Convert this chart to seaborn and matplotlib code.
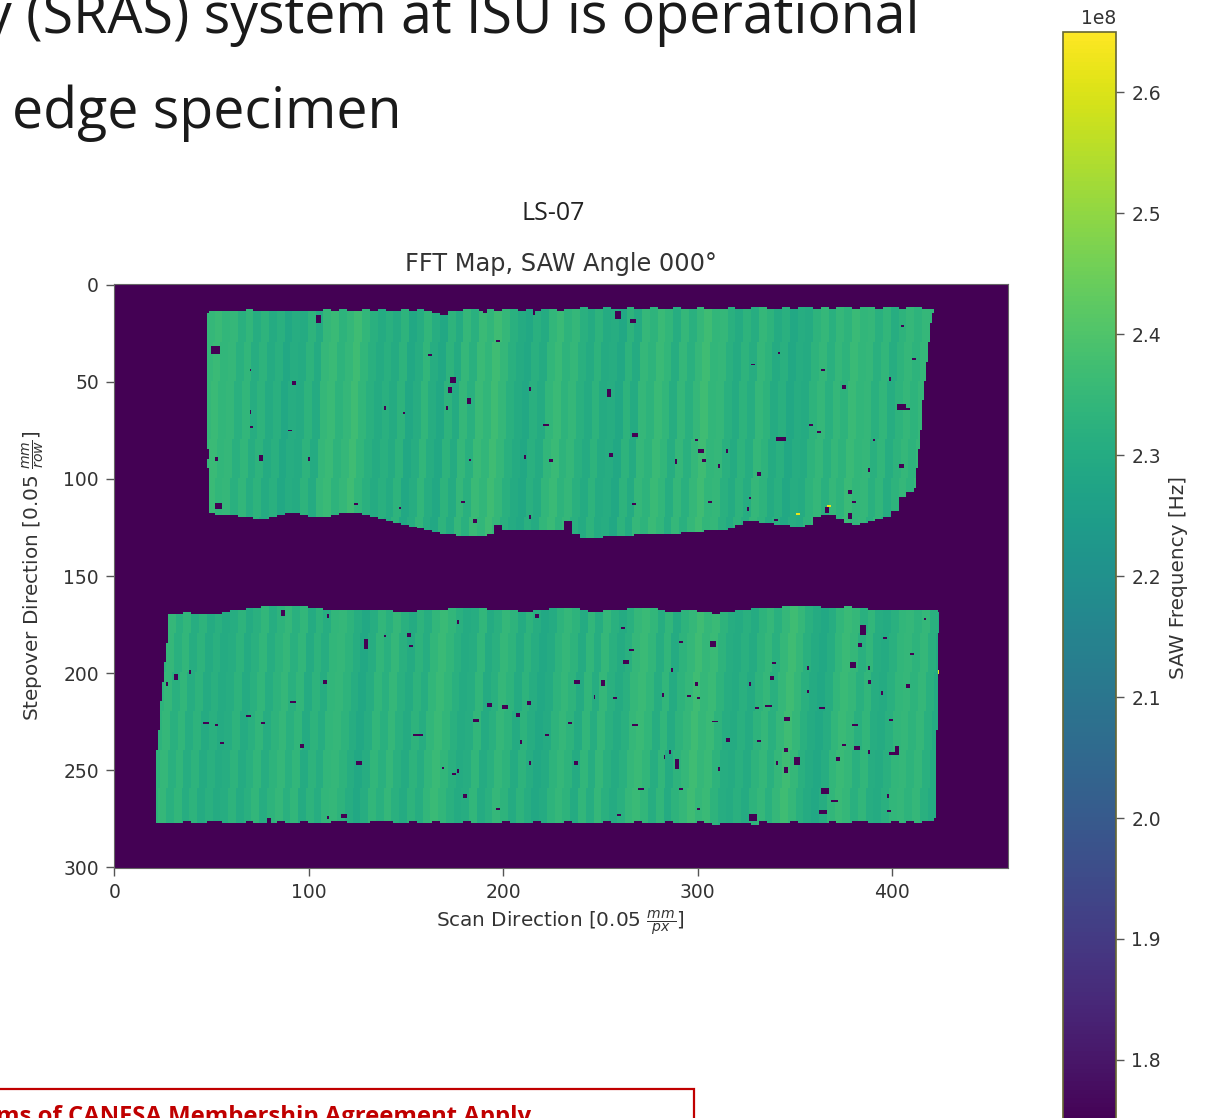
import numpy as np
import pandas as pd
import matplotlib
matplotlib.use('Agg')
import matplotlib.pyplot as plt
import seaborn as sns
from matplotlib.patches import Rectangle

W, H = 1205, 1118

# tick labels
x_ticks = [0, 100, 200, 300, 400]
y_ticks = [0, 50, 100, 150, 200, 250, 300]
cbar_ticks = [1.8e8, 1.9e8, 2.0e8, 2.1e8, 2.2e8, 2.3e8, 2.4e8, 2.5e8, 2.6e8]

# map size and colour range [Hz]
n_rows, n_cols = 301, 460
f_min, f_max = 1.747e8, 2.65e8
bin_w, band_h = 4, 5

# upper specimen, one entry per 4 column bin, starting at column 48
top_start = 48
top_upper = [14, 14, 14, 14, 14, 13, 14, 14, 14, 14,
             14, 14, 14, 14, 14, 13, 14, 13, 14, 14,
             13, 14, 13, 14, 14, 13, 14, 13, 14, 15,
             16, 14, 14, 13, 13, 14, 13, 14, 13, 13,
             14, 13, 14, 13, 13, 14, 13, 13, 12, 13,
             13, 12, 13, 13, 12, 13, 13, 12, 13, 13,
             12, 13, 13, 12, 13, 13, 13, 12, 13, 13,
             12, 12, 13, 13, 12, 13, 12, 12, 13, 12,
             13, 12, 12, 13, 12, 12, 13, 12, 12, 13,
             12, 12, 13, 13]
top_lower = [118, 119, 119, 119, 120, 120, 121, 121, 120, 119,
             118, 118, 119, 120, 120, 120, 119, 118, 118, 118,
             119, 120, 121, 122, 123, 124, 125, 126, 127, 128,
             129, 129, 130, 130, 130, 130, 129, 124, 127, 127,
             127, 127, 127, 127, 127, 127, 122, 129, 131, 131,
             131, 130, 130, 130, 130, 129, 129, 129, 129, 129,
             129, 128, 128, 128, 127, 127, 127, 126, 124, 122,
             122, 123, 123, 124, 124, 125, 125, 124, 120, 119,
             119, 121, 123, 124, 123, 122, 121, 120, 117, 110,
             107, 105, 104, 104]
top_freq = [2.35, 2.36, 2.34, 2.35, 2.32, 2.34, 2.31, 2.33, 2.30, 2.32,
            2.29, 2.31, 2.30, 2.33, 2.30, 2.35, 2.36, 2.33, 2.35, 2.37,
            2.34, 2.32, 2.30, 2.32, 2.30, 2.33, 2.29, 2.31, 2.34, 2.31,
            2.29, 2.33, 2.30, 2.35, 2.32, 2.36, 2.34, 2.37, 2.35, 2.32,
            2.30, 2.29, 2.32, 2.30, 2.34, 2.36, 2.33, 2.35, 2.32, 2.30,
            2.33, 2.30, 2.31, 2.29, 2.33, 2.30, 2.35, 2.33, 2.36, 2.34,
            2.31, 2.35, 2.32, 2.35, 2.37, 2.34, 2.35, 2.32, 2.30, 2.33,
            2.31, 2.35, 2.33, 2.30, 2.32, 2.29, 2.31, 2.30, 2.33, 2.35,
            2.32, 2.35, 2.33, 2.36, 2.34, 2.35, 2.32, 2.34, 2.31, 2.33,
            2.35, 2.33, 2.35, 2.34]
# side edges of the upper specimen, one entry per 5 row band from row 10
top_band_start = 10
top_left = [49, 48, 48, 47, 48, 47, 48, 48, 48, 47,
            48, 48, 48, 48, 48, 49, 48, 49, 49, 49,
            49, 49, 49, 49, 49]
top_right = [422, 421, 420, 420, 419, 419, 418, 418, 417, 417,
             416, 416, 416, 415, 415, 414, 414, 413, 413, 412,
             412, 412, 412, 412, 412]

# lower specimen, one entry per 4 column bin, starting at column 20
low_start = 20
low_upper = [170, 170, 170, 170, 169, 170, 170, 170, 170, 169,
             168, 168, 167, 167, 166, 166, 166, 166, 166, 166,
             167, 167, 168, 168, 168, 168, 168, 168, 168, 168,
             168, 169, 169, 169, 168, 168, 168, 168, 167, 167,
             167, 167, 167, 168, 168, 168, 168, 169, 169, 168,
             168, 167, 167, 167, 167, 168, 169, 169, 168, 168,
             168, 167, 167, 167, 167, 168, 169, 169, 168, 168,
             169, 169, 170, 169, 169, 168, 168, 167, 167, 167,
             167, 166, 166, 166, 166, 166, 167, 167, 167, 166,
             167, 167, 168, 168, 168, 168, 168, 168, 168, 168,
             168, 169]
low_lower = [278, 278, 278, 278, 277, 278, 278, 277, 277, 278,
             278, 278, 277, 278, 278, 278, 277, 278, 278, 277,
             278, 278, 278, 277, 277, 278, 278, 278, 277, 277,
             277, 278, 278, 277, 278, 278, 277, 278, 278, 278,
             277, 278, 278, 278, 278, 277, 278, 278, 278, 277,
             278, 278, 278, 277, 278, 278, 278, 278, 277, 278,
             278, 278, 277, 278, 278, 278, 277, 278, 278, 278,
             277, 278, 279, 278, 278, 278, 278, 279, 277, 278,
             278, 278, 277, 278, 278, 278, 278, 277, 278, 278,
             277, 277, 278, 278, 278, 277, 278, 277, 278, 277,
             277, 277]
low_freq = [2.33, 2.33, 2.35, 2.32, 2.34, 2.31, 2.33, 2.30, 2.32, 2.30,
            2.31, 2.33, 2.30, 2.32, 2.34, 2.31, 2.33, 2.35, 2.32, 2.34,
            2.30, 2.33, 2.31, 2.34, 2.35, 2.33, 2.31, 2.29, 2.31, 2.34,
            2.32, 2.35, 2.32, 2.30, 2.33, 2.31, 2.34, 2.36, 2.34, 2.32,
            2.30, 2.31, 2.34, 2.30, 2.32, 2.35, 2.33, 2.30, 2.33, 2.31,
            2.29, 2.30, 2.33, 2.35, 2.33, 2.30, 2.34, 2.31, 2.35, 2.32,
            2.30, 2.32, 2.35, 2.36, 2.34, 2.31, 2.34, 2.30, 2.33, 2.35,
            2.37, 2.35, 2.36, 2.33, 2.31, 2.30, 2.32, 2.30, 2.33, 2.35,
            2.32, 2.35, 2.37, 2.35, 2.32, 2.30, 2.29, 2.31, 2.34, 2.36,
            2.35, 2.32, 2.34, 2.31, 2.30, 2.32, 2.34, 2.35, 2.33, 2.35,
            2.32, 2.30]
low_band_start = 165
low_left = [28, 28, 28, 28, 27, 27, 26, 26, 25, 25,
            24, 24, 24, 23, 23, 22, 22, 22, 22, 22,
            22, 22, 22, 22]
low_right = [425, 425, 425, 424, 424, 424, 424, 424, 424, 424,
             424, 424, 424, 423, 423, 423, 423, 423, 423, 423,
             423, 423, 422, 422]

# the streaks lean a little, columns of lean per 10 rows
row_lean = [0, 0, 0, 1, 1, 2, 2, 2, 3, 3, 4, 4, 5, 5, 5, 5,
            0, 0, 1, 1, 2, 2, 3, 3, 4, 4, 5, 5, 5, 5, 5]

# dropouts in the scan: column, row, width, height
top_spots = [(104, 16, 3, 4), (50, 32, 5, 4), (52, 113, 4, 3), (173, 48, 3, 3), (172, 53, 2, 3),
             (182, 59, 2, 3), (92, 50, 2, 2), (70, 44, 1, 1), (70, 65, 1, 2), (70, 73, 2, 1),
             (90, 75, 2, 1), (75, 88, 2, 3), (100, 89, 1, 2), (52, 89, 2, 2), (139, 63, 1, 2),
             (149, 66, 1, 1), (162, 36, 2, 1), (197, 29, 2, 1), (190, 13, 2, 2), (216, 14, 1, 2),
             (214, 53, 1, 2), (171, 63, 1, 2), (221, 72, 3, 1), (211, 88, 1, 2), (224, 90, 2, 2),
             (183, 90, 1, 1), (124, 113, 2, 1), (147, 115, 1, 1), (179, 112, 2, 1), (185, 121, 2, 2),
             (214, 119, 1, 2), (258, 14, 3, 4), (266, 18, 3, 2), (254, 54, 2, 4), (267, 77, 3, 2),
             (255, 87, 2, 2), (289, 90, 1, 3), (299, 80, 2, 1), (301, 85, 3, 2), (303, 90, 2, 2),
             (315, 85, 1, 2), (311, 93, 1, 2), (331, 97, 2, 2), (341, 79, 5, 2), (358, 72, 2, 1),
             (362, 76, 2, 1), (328, 41, 2, 1), (342, 35, 1, 1), (364, 44, 2, 1), (375, 52, 2, 2),
             (399, 48, 1, 2), (405, 21, 2, 1), (411, 38, 2, 1), (403, 62, 5, 3), (408, 64, 2, 1),
             (391, 80, 1, 1), (388, 95, 1, 2), (404, 93, 3, 2), (378, 106, 2, 2), (380, 112, 2, 1),
             (267, 113, 2, 1), (306, 112, 2, 1), (327, 110, 1, 1), (326, 115, 1, 2), (366, 115, 2, 3),
             (378, 118, 2, 3), (340, 121, 2, 1)]
low_spots = [(86, 168, 2, 3), (110, 170, 1, 2), (129, 183, 2, 5), (151, 180, 2, 2), (152, 186, 2, 1),
             (139, 181, 1, 1), (177, 173, 1, 2), (217, 170, 2, 2), (31, 201, 2, 3), (39, 199, 1, 2),
             (27, 205, 1, 2), (108, 204, 2, 2), (91, 215, 3, 1), (68, 222, 3, 1), (46, 226, 3, 1),
             (52, 227, 2, 1), (76, 226, 2, 1), (55, 236, 2, 1), (96, 237, 2, 2), (125, 246, 3, 2),
             (154, 232, 5, 1), (185, 224, 3, 2), (192, 216, 3, 2), (200, 217, 3, 2), (207, 221, 2, 2),
             (213, 215, 2, 2), (209, 235, 1, 2), (214, 246, 1, 2), (222, 232, 2, 1), (174, 252, 2, 1),
             (177, 250, 1, 2), (169, 249, 1, 1), (180, 263, 2, 2), (197, 270, 2, 1), (117, 273, 3, 2),
             (79, 275, 2, 3), (110, 274, 1, 2), (307, 184, 3, 3), (265, 188, 3, 1), (262, 194, 3, 2),
             (261, 177, 2, 1), (291, 184, 2, 1), (237, 204, 3, 2), (251, 204, 2, 3), (247, 212, 1, 2),
             (257, 213, 2, 1), (282, 211, 1, 2), (287, 198, 1, 2), (299, 205, 2, 2), (295, 212, 2, 1),
             (300, 213, 2, 1), (234, 226, 2, 1), (267, 227, 3, 1), (308, 225, 3, 1), (315, 234, 2, 2),
             (331, 235, 2, 1), (335, 217, 4, 1), (330, 218, 2, 1), (345, 223, 3, 2), (327, 205, 1, 2),
             (338, 202, 2, 2), (339, 195, 2, 1), (357, 197, 1, 2), (357, 209, 1, 2), (363, 218, 3, 1),
             (345, 239, 2, 2), (350, 244, 3, 4), (345, 249, 2, 3), (341, 246, 1, 2), (289, 245, 2, 5),
             (286, 240, 1, 2), (283, 243, 1, 2), (237, 246, 2, 2), (270, 260, 3, 1), (291, 260, 2, 1),
             (311, 249, 1, 2), (300, 270, 2, 1), (259, 273, 2, 1), (327, 273, 4, 4), (364, 260, 4, 3),
             (369, 266, 4, 1), (363, 271, 4, 2), (381, 238, 3, 2), (375, 237, 2, 1), (372, 244, 2, 2),
             (388, 240, 1, 2), (399, 241, 5, 2), (402, 238, 2, 3), (384, 176, 3, 5), (383, 185, 2, 2),
             (379, 195, 3, 3), (388, 204, 2, 2), (388, 197, 1, 2), (395, 210, 1, 2), (408, 206, 2, 2),
             (396, 182, 2, 1), (410, 190, 2, 1), (417, 172, 1, 1), (398, 271, 2, 1), (398, 263, 1, 2),
             (380, 227, 3, 1), (399, 224, 2, 1)]
# saturated pixels: column, row
hot_spots = [(351, 118), (352, 118), (367, 114), (368, 114), (424, 199), (424, 200)]

grid = np.full((n_rows, n_cols), f_min)


def pinta_probeta(start, upper, lower, freq):
    for c in range(start, start + len(freq) * bin_w):
        i = (c - start) // bin_w
        for r in range(upper[i], lower[i]):
            j = min((c - start + row_lean[r // 10]) // bin_w, len(freq) - 1)
            grid[r, c] = freq[j] * 1e8


def recorta_lados(band_start, left, right):
    for i in range(len(left)):
        r = band_start + i * band_h
        grid[r:r + band_h, :left[i]] = f_min
        grid[r:r + band_h, right[i]:] = f_min


pinta_probeta(top_start, top_upper, top_lower, top_freq)
recorta_lados(top_band_start, top_left, top_right)
pinta_probeta(low_start, low_upper, low_lower, low_freq)
recorta_lados(low_band_start, low_left, low_right)

for c, r, w, h in top_spots + low_spots:
    grid[r:r + h, c:c + w] = f_min
for c, r in hot_spots:
    grid[r, c] = 2.62e8

df = pd.DataFrame(grid)


def caja(left, top, right, bottom):
    return [left / W, 1 - bottom / H, (right - left) / W, (bottom - top) / H]


fig = plt.figure(figsize=(W / 100, H / 100), dpi=100)
ax = fig.add_axes(caja(113.5, 284, 1007.5, 868))
cax = fig.add_axes(caja(1063, 32, 1116, 1124))

sns.heatmap(df, ax=ax, cbar_ax=cax, cmap='viridis', vmin=f_min, vmax=f_max,
            xticklabels=False, yticklabels=False, cbar_kws={'ticks': cbar_ticks})

ax.set_xticks([v + 0.5 for v in x_ticks])
ax.set_xticklabels(x_ticks, rotation=0, fontsize=13.5, color='#333333')
ax.set_yticks([v + 0.5 for v in y_ticks])
ax.set_yticklabels(y_ticks, rotation=0, fontsize=13.5, color='#333333')
ax.tick_params(length=6, width=1, color='#555555', pad=4.5)
for s in ax.spines.values():
    s.set_visible(True)
    s.set_color('#666666')
ax.set_xlabel(r'Scan Direction [0.05 $\frac{mm}{px}$]', fontsize=14.4, color='#333333', labelpad=5)
ax.set_ylabel(r'Stepover Direction [0.05 $\frac{mm}{row}$]', fontsize=14.4, color='#333333', labelpad=12)
ax.set_title('FFT Map, SAW Angle 000°', fontsize=17.3, color='#333333', pad=9)

cbar = ax.collections[0].colorbar
cbar.set_label('SAW Frequency [Hz]', fontsize=14.4, color='#333333', labelpad=6)
cbar.ax.tick_params(labelsize=13.5, length=6, width=1, labelcolor='#333333', color='#555555', pad=5)
cbar.ax.yaxis.OFFSETTEXTPAD = 6
cbar.ax.yaxis.get_offset_text().set_fontsize(13.5)
cbar.ax.yaxis.get_offset_text().set_color('#333333')
cbar.outline.set_edgecolor('#666633')
cbar.outline.set_linewidth(1.2)

# textos de la diapositiva detras del grafico
fig.text(553 / W, 1 - 213 / H, 'LS-07', fontsize=18, family='Open Sans', ha='center', va='center', color='#222222')
fig.text(-16 / W, 1 - 33 / H, 'y (SRAS) system at ISU is operational', fontsize=40,
         family='Open Sans', ha='left', va='baseline', color='#1a1a1a')
fig.text(12 / W, 1 - 128 / H, 'edge specimen', fontsize=40,
         family='Open Sans', ha='left', va='baseline', color='#1a1a1a')
fig.add_artist(Rectangle((-10 / W, 1 - 1160 / H), 704 / W, 71 / H, transform=fig.transFigure,
                         fill=False, edgecolor='#c00000', linewidth=1.6))
fig.text(-4 / W, 1 - 1123 / H, 'ms of CANFSA Membership Agreement Apply', fontsize=17.2, fontweight='bold',
         family='Open Sans', ha='left', va='baseline', color='#c00000')

fig.savefig('out.png', dpi=100)
